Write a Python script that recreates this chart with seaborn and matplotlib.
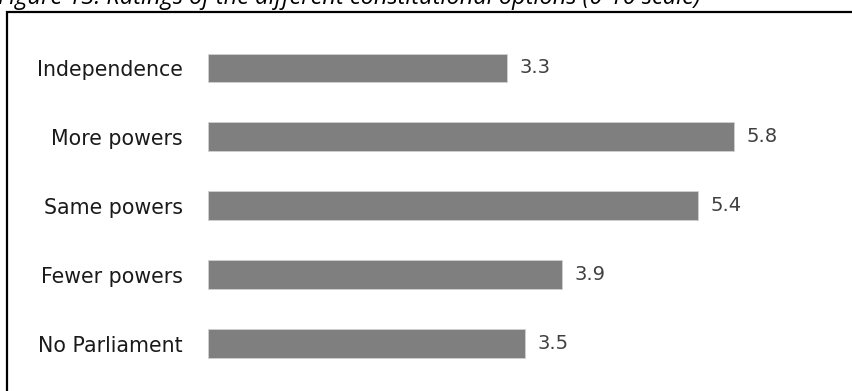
import matplotlib
matplotlib.use("Agg")
import matplotlib.pyplot as plt
import seaborn as sns
import pandas as pd
from matplotlib.patches import Rectangle

categories = ["Independence", "More powers", "Same powers", "Fewer powers", "No Parliament"]
ratings = [3.3, 5.8, 5.4, 3.9, 3.5]
title = "Figure 13: Ratings of the different constitutional options (0-10 scale)"

sns.set_theme(style="white")
plt.rcParams['font.family'] = ['DejaVu Sans']

W, H = 853, 391
fig = plt.figure(figsize=(W / 100, H / 100), dpi=100)

# frame box
fig.patches.append(Rectangle((7 / W, -0.1), 1.2, (H - 12) / H + 0.1, transform=fig.transFigure,
                             fill=False, edgecolor="black", linewidth=1.6, zorder=0))

fig.text(-2 / W, 1 - 4 / H, title, fontsize=17, fontstyle="italic", ha="left", va="baseline",
         color="black", family=["Open Sans", "DejaVu Sans"])

ax = fig.add_axes([208 / W, 0, 1 - 208 / W, (H - 14) / H])
df = pd.DataFrame({"category": categories, "rating": ratings})
sns.barplot(data=df, y="category", x="rating", orient="h", color="#7f7f7f", width=0.42,
            saturation=1, ax=ax, edgecolor="#d0d0d0", linewidth=0.6)

step = 68.9
top_px = 68 - 14
ax.set_ylim(4 + (391 - 343.5) / step, -(top_px) / step)
ax.set_xlim(0, (W - 208) / 90.7)
ax.set_xlabel("")
ax.set_ylabel("")
ax.set_xticks([])
ax.tick_params(axis="y", length=0, pad=18, labelsize=14.8, labelcolor="#1a1a1a")
for s in ax.spines.values():
    s.set_visible(False)
ax.patch.set_alpha(0)

for c in ax.containers:
    ax.bar_label(c, fmt="%.1f", padding=9, fontsize=14, color="#404040")

fig.savefig("out.png", dpi=100)
